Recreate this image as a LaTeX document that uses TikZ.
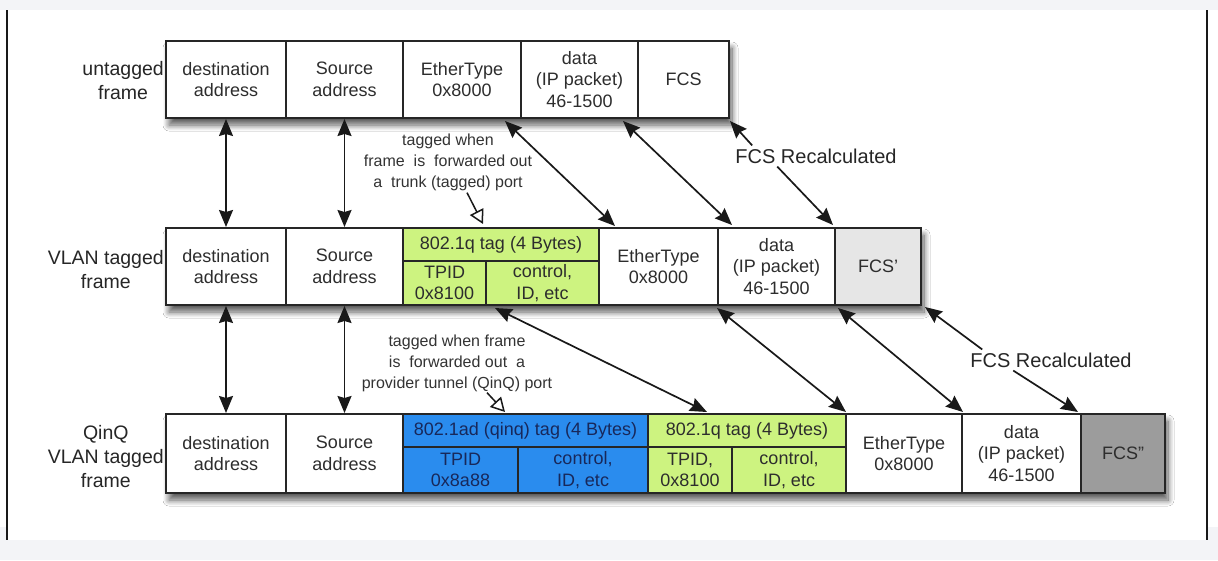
\documentclass[tikz,border=0pt]{standalone}
\usepackage{fontspec}
\setmainfont{Liberation Sans}
\usetikzlibrary{arrows.meta,shadows.blur}
\definecolor{tagGreen}{RGB}{205,243,128}
\definecolor{tagBlue}{RGB}{42,140,238}
\definecolor{navyText}{RGB}{24,40,90}
\definecolor{cellText}{RGB}{45,45,45}
\definecolor{fcsOne}{RGB}{230,230,230}
\definecolor{fcsTwo}{RGB}{156,156,156}
\definecolor{pageGray}{RGB}{243,244,247}
\tikzset{
  cell/.style={draw=black!85, line width=1.5pt, inner sep=0pt, outer sep=0pt, align=center,
    font=\fontsize{18}{21.5}\selectfont, text=cellText, fill=white},
  greencell/.style={cell, fill=tagGreen},
  bluecell/.style={cell, fill=tagBlue, text=navyText},
  rowlabel/.style={anchor=east, align=center, inner sep=0pt, font=\fontsize{19.5}{24}\selectfont, text=black!85},
  note/.style={align=center, inner sep=0pt, font=\fontsize{16}{21}\selectfont, text=black!80},
  recalc/.style={inner sep=0pt, font=\fontsize{20}{24}\selectfont, text=black!85},
  link/.style={line width=1.7pt, black!90, <->},
  onelink/.style={line width=1.7pt, black!90, ->},
  openlink/.style={line width=1.5pt, black!90, -{Triangle[open,length=14pt,width=15pt,line width=1.5pt]}},
  rowshadow/.style={fill=white, blur shadow={shadow xshift=3pt, shadow yshift=-7pt, shadow blur radius=6pt, shadow opacity=65, shadow blur steps=10}}
}
\begin{document}
\begin{tikzpicture}[x=1pt,y=-1pt,>={Stealth[length=17pt,width=14pt,inset=2pt]}]
\useasboundingbox (0,0) rectangle (1218,560);
% page frame
\fill[pageGray] (0,0) rectangle (1218,560);
\fill[white] (0,10) rectangle (1218,527);
\fill[white] (7,527) rectangle (1207,540);
\draw[line width=2pt, black!90] (7,10) -- (7,540);
\draw[line width=2pt, black!90] (1207,10) -- (1207,540);

% row shadows
\fill[rowshadow] (166,41) rectangle (729,118);
\fill[rowshadow] (166,228) rectangle (921,305);
\fill[rowshadow] (166,414) rectangle (1165,493);

% row 1: untagged frame
\node[rowlabel] (lu) at (164,81) {untagged\\frame};
\node[cell, minimum width=120pt, minimum height=77pt] (u1) at (226,79.5) {destination\\address};
\node[cell, minimum width=117pt, minimum height=77pt] (u2) at (344.5,79.5) {Source\\address};
\node[cell, minimum width=118pt, minimum height=77pt] (u3) at (462,79.5) {EtherType\\0x8000};
\node[cell, minimum width=117pt, minimum height=77pt] (u4) at (579.5,79.5) {data\\(IP packet)\\46-1500};
\node[cell, minimum width=91pt, minimum height=77pt] (u5) at (683.5,79.5) {FCS};

% row 2: VLAN tagged frame
\node[rowlabel] (lv) at (164,270) {VLAN tagged\\frame};
\node[cell, minimum width=120pt, minimum height=77pt] (v1) at (226,266.5) {destination\\address};
\node[cell, minimum width=117pt, minimum height=77pt] (v2) at (344.5,266.5) {Source\\address};
\node[greencell, minimum width=196pt, minimum height=33pt] (v3h) at (501,244.5) {802.1q tag (4 Bytes)};
\node[greencell, minimum width=83pt, minimum height=44pt] (v3a) at (444.5,283) {TPID\\0x8100};
\node[greencell, minimum width=113pt, minimum height=44pt] (v3b) at (542.5,283) {control,\\ID, etc};
\node[cell, minimum width=119pt, minimum height=77pt] (v4) at (658.5,266.5) {EtherType\\0x8000};
\node[cell, minimum width=117pt, minimum height=77pt] (v5) at (776.5,266.5) {data\\(IP packet)\\46-1500};
\node[cell, fill=fcsOne, minimum width=86pt, minimum height=77pt] (v6) at (878,266.5) {FCS'};

% row 3: QinQ VLAN tagged frame
\node[rowlabel] (lw) at (164,457) {QinQ\\VLAN tagged\\frame};
\node[cell, minimum width=120pt, minimum height=79pt] (w1) at (226,453.5) {destination\\address};
\node[cell, minimum width=117pt, minimum height=79pt] (w2) at (344.5,453.5) {Source\\address};
\node[bluecell, minimum width=245pt, minimum height=33pt] (w3h) at (525.5,430.5) {802.1ad (qinq) tag (4 Bytes)};
\node[bluecell, minimum width=115pt, minimum height=46pt] (w3a) at (460.5,470) {TPID\\0x8a88};
\node[bluecell, minimum width=130pt, minimum height=46pt] (w3b) at (583,470) {control,\\ID, etc};
\node[greencell, minimum width=198pt, minimum height=33pt] (w4h) at (747,430.5) {802.1q tag (4 Bytes)};
\node[greencell, minimum width=84pt, minimum height=46pt] (w4a) at (690,470) {TPID,\\0x8100};
\node[greencell, minimum width=114pt, minimum height=46pt] (w4b) at (789,470) {control,\\ID, etc};
\node[cell, minimum width=116pt, minimum height=79pt] (w5) at (904,453.5) {EtherType\\0x8000};
\node[cell, minimum width=119pt, minimum height=79pt] (w6) at (1021.5,453.5) {data\\(IP packet)\\46-1500};
\node[cell, fill=fcsTwo, minimum width=84pt, minimum height=79pt] (w7) at (1123,453.5) {FCS''};

% annotations
\node[note] (an1) at (448,162) {tagged when\\frame\ \ is\ \ forwarded out\\a\ \ trunk (tagged) port};
\node[note] (an2) at (457,363) {tagged when frame\\is\ \ forwarded out\ \ a\\provider tunnel (QinQ) port};
\node[recalc] (fr1) at (816,156) {FCS Recalculated};
\node[recalc] (fr2) at (1051,360) {FCS Recalculated};

% vertical connectors
\draw[link, shorten <=1pt, shorten >=1pt] (u1.south) -- (v1.north);
\draw[link, shorten <=1pt, shorten >=1pt] (u2.south) -- (v2.north);
\draw[link, shorten <=1pt, shorten >=1pt] (v1.south) -- (w1.north);
\draw[link, shorten <=1pt, shorten >=1pt] (v2.south) -- (w2.north);

% diagonal connectors row 1 -> row 2
\draw[link] ([xshift=-16pt,yshift=-3pt]u3.south east) -- ([xshift=16pt,yshift=2pt]v4.north west);
\draw[link] ([xshift=-15pt,yshift=-3pt]u4.south east) -- ([xshift=14pt,yshift=3pt]v5.north west);
\draw[onelink] ([xshift=17pt,yshift=3pt]fr1.north west) -- ([xshift=1pt,yshift=-3pt]u5.south east);
\draw[onelink] ([xshift=42pt,yshift=-3pt]fr1.south west) -- ([xshift=-2pt,yshift=3pt]v6.north west);

% diagonal connectors row 2 -> row 3
\draw[link] ([xshift=9pt,yshift=-3pt]v3b.south west) -- ([xshift=59pt,yshift=2pt]w4h.north west);
\draw[link] ([xshift=-1pt,yshift=-3pt]v5.south west) -- ([yshift=2pt]w5.north west);
\draw[link] ([xshift=3pt,yshift=-3pt]v6.south west) -- ([xshift=1pt,yshift=2pt]w6.north west);
\draw[onelink] ([xshift=12pt,yshift=3pt]fr2.north west) -- ([xshift=4pt,yshift=-2pt]v6.south east);
\draw[onelink] ([xshift=43pt,yshift=-3pt]fr2.south west) -- ([xshift=-3pt,yshift=2pt]w7.north west);

% annotation pointers
\draw[openlink] ([xshift=19pt,yshift=-2pt]an1.south) -- ([xshift=80pt,yshift=4pt]v3h.north west);
\draw[openlink] ([xshift=30pt,yshift=-1pt]an2.south) -- ([xshift=102pt,yshift=2pt]w3h.north west);
\end{tikzpicture}
\end{document}
